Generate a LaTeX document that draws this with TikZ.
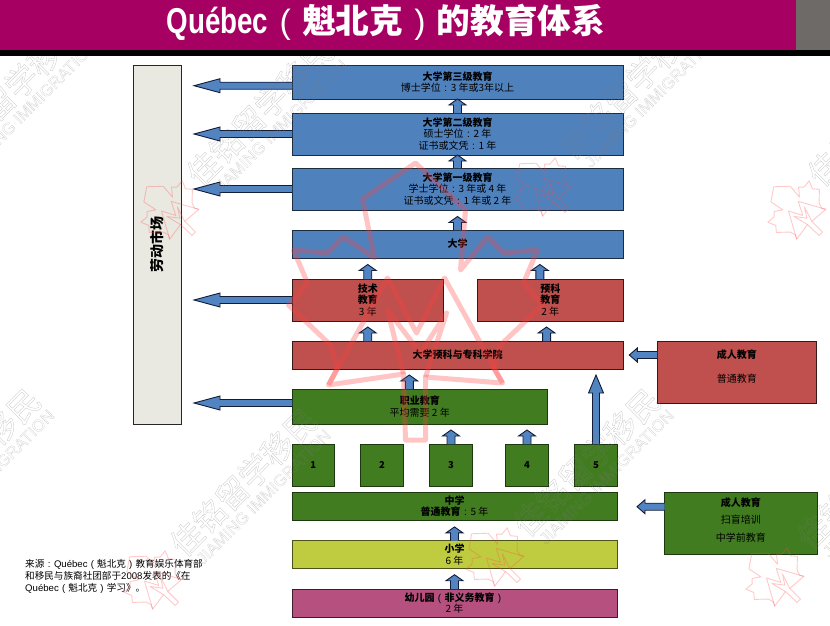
\documentclass[tikz,border=0pt]{standalone}
\usepackage{fontspec}
\usepackage{xcolor}
\setmainfont{Noto Sans CJK SC}
\newfontfamily\latinfont{Liberation Sans}
\newfontfamily\titlelatin[FakeStretch=0.77]{Liberation Sans}
\usetikzlibrary{arrows.meta,
positioning,
calc}

\definecolor{bannerred}{HTML}{A50062}
\definecolor{bannergray}{HTML}{6E6A68}
\definecolor{edublue}{HTML}{4F81BD}
\definecolor{edured}{HTML}{C0504D}
\definecolor{edugreen}{HTML}{417C20}
\definecolor{eduyellow}{HTML}{BFCC3F}
\definecolor{edupink}{HTML}{B5507F}
\definecolor{labourgray}{HTML}{E9E9E1}
\definecolor{arrowfill}{HTML}{5284C2}
\definecolor{arrowline}{HTML}{101C38}

\newcommand{\blockarrow}[5]{%
	\coordinate (ba) at (#1);
	\coordinate (bb) at (#2);
	\coordinate (bh) at ($(bb)!#5pt!(ba)$);
	\draw[arrowbody] ($(ba)!#3pt!90:(bb)$) -- ($(bh)!#3pt!90:(bb)$) -- ($(bh)!#4pt!90:(bb)$) -- (bb)
	-- ($(bh)!#4pt!-90:(bb)$) -- ($(bh)!#3pt!-90:(bb)$) -- ($(ba)!#3pt!-90:(bb)$);
}
\newcommand{\outarrow}[2]{\blockarrow{#1}{#2}{3.5}{7}{26}}
\newcommand{\steparrow}[2]{\blockarrow{#1}{#2}{4}{8.5}{6}}
\newcommand{\sidearrow}[2]{\blockarrow{#1}{#2}{3.5}{7}{8}}

% Centred punctuation, one character wide
\newcommand{\lp}{\makebox[1em]{\latinfont\mdseries(}}
\newcommand{\rp}{\makebox[1em]{\latinfont\mdseries)}}
\newcommand{\cl}{\makebox[1em]{\latinfont\mdseries:}}
% Hollow letters for the watermark
\newcommand{\hollow}[2]{\special{pdf:code 1 Tr #1 w}#2\special{pdf:code 0 Tr}}

\begin{document}
\begin{tikzpicture}[
		x=1pt,
		y=-1pt,
		arrowbody/.style={
			draw=arrowline,
			fill=arrowfill,
			line width=0.9pt,
			line join=miter
		},
		edubox/.style={
			draw,
			line width=0.9pt,
			outer sep=0pt,
			inner sep=0pt,
			align=center,
			text=black,
			font=\fontsize{10}{11.7}\selectfont
		},
		wideblue/.style={
			edubox,
			draw=edublue!35!black,
			fill=edublue,
			minimum width=331pt
		},
		redbox/.style={
			edubox,
			draw=edured!30!black,
			fill=edured
		},
		greenbox/.style={
			edubox,
			draw=edugreen!45!black,
			fill=edugreen
		},
		gradebox/.style={
			greenbox,
			minimum width=42.4pt,
			minimum height=42pt,
			font=\fontsize{9.5}{11.7}\selectfont\bfseries
		},
		wmtext/.style={
			text=gray,
			text opacity=0.4,
			rotate=45,
			inner sep=0pt
		},
		smallmark/.style={
			draw=red!70!white,
			draw opacity=0.3,
			line width=0.9pt,
			rotate=45,
			scale=0.24
		},
		bigmark/.style={
			draw=red!75!white,
			draw opacity=0.3,
			line width=5pt
		},
		mapleleaf/.pic={
			\draw[pic actions, line join=round]
			(0,-137) -- (-53,-101) -- (-41,-42) -- (-72,-63) -- (-88,-47) -- (-122,-50)
			-- (-108,-17) -- (-127,5) -- (-85,45) -- (-78,68) -- (-87,85) -- (-12,74)
			-- (-10,140) -- (10,140) -- (10,77) -- (87,83) -- (78,68) -- (85,45)
			-- (127,5) -- (108,-17) -- (122,-50) -- (88,-47) -- (72,-63) -- (45,-30)
			-- (50,-90) -- cycle;
			\draw[pic actions, line join=round]
			(-87,85) -- (-28,-22) -- (1,33) -- (29,-22) -- (87,83);
			\draw[pic actions, line join=round]
			(-12,74) -- (-28,10) -- (5,53) -- (31,13) -- (10,77);
		},
		brandmark/.pic={
			\node[wmtext, font=\fontsize{32}{32}\selectfont] (brandcn) at (0,0) {\hollow{0.35}{佳铭留学移民}};
			\node[wmtext, font=\latinfont\fontsize{16.5}{16.5}\selectfont] (branden) at (20,15) {\hollow{0.25}{JIAMING IMMIGRATION}};
		}
		]
		
		\useasboundingbox (0,0) rectangle (830,625);
		
		% University levels
		\node[wideblue, minimum height=34pt] (doctorate) at (457.5,82)
		{\textbf{大学第三级教育}\\博士学位\cl 3 年或3年以上};
		
		\node[wideblue, minimum height=42pt, below=14pt of doctorate] (master)
		{\textbf{大学第二级教育}\\硕士学位\cl 2 年\\证书或文凭\cl 1 年};
		
		\node[wideblue, minimum height=42pt, below=13pt of master] (bachelor)
		{\textbf{大学第一级教育}\\学士学位\cl 3 年或 4 年\\证书或文凭\cl 1 年或 2 年};
		
		\node[wideblue, minimum height=28pt, below=20pt of bachelor] (university)
		{\textbf{大学}};
		
		% College
		\node[redbox, minimum width=151.5pt, minimum height=42pt, below right=21pt and 0pt of university.south west] (technical)
		{\textbf{技术}\\\textbf{教育}\\3 年};
		
		\node[redbox, minimum width=145.5pt, minimum height=42pt, right=34pt of technical] (preuniv)
		{\textbf{预科}\\\textbf{教育}\\2 年};
		
		\node[redbox, minimum width=331pt, minimum height=28pt, below right=20pt and 0pt of technical.south west] (college)
		{\textbf{大学预科与专科学院}};
		
		\node[redbox, minimum width=159.5pt, minimum height=62pt, below right=0pt and 34pt of college.north east] (adultred)
		{\textbf{成人教育}\\[12.3pt]普通教育\\[0.3pt]~};
		
		% Secondary
		\node[greenbox, minimum width=255.5pt, minimum height=35pt, below right=20pt and 0pt of college.south west] (vocational)
		{\textbf{职业教育}\\平均需要 2 年};
		
		\node[gradebox, below right=20pt and 0pt of vocational.south west] (gradeone) {1};
		\node[gradebox, right=26.4pt of gradeone] (gradetwo) {2};
		\node[gradebox, right=26.6pt of gradetwo] (gradethree) {3};
		\node[gradebox, right=33.6pt of gradethree] (gradefour) {4};
		\node[gradebox, right=26.6pt of gradefour] (gradefive) {5};
		
		\node[greenbox, minimum width=325pt, minimum height=28.4pt, below right=6pt and 0pt of gradeone.south west] (secondary)
		{\textbf{中学}\\\textbf{普通教育}\cl 5 年};
		
		\node[greenbox, minimum width=152.4pt, minimum height=62.3pt, below right=0pt and 47.6pt of secondary.north east] (adultgreen)
		{\textbf{成人教育}\\[5.8pt]扫盲培训\\[5.8pt]中学前教育\\[-3.7pt]~};
		
		% Primary and kindergarten
		\node[edubox, draw=eduyellow!40!black, fill=eduyellow, minimum width=325pt, minimum height=28pt, below=20.3pt of secondary] (primary)
		{\textbf{小学}\\6 年};
		
		\node[edubox, draw=edupink!35!black, fill=edupink, minimum width=325pt, minimum height=28pt, below=20.3pt of primary] (kindergarten)
		{\textbf{幼儿园\lp 非义务教育\rp}\\2 年};
		
		% Labour market
		\node[edubox, draw=black!85, fill=labourgray, minimum width=48pt, minimum height=359pt] (labour) at (157,244.5)
		{};
		\node[rotate=90, inner sep=0pt, font=\fontsize{14}{14}\selectfont\bfseries] (labourtext) at (labour.center) {劳动市场};
		
		% Source note
		\node[inner sep=0pt, anchor=north west, align=left, font=\fontsize{9.6}{11.9}\selectfont] (source) at (25,559)
		{来源\cl{\latinfont Québec}\lp 魁北克\rp 教育娱乐体育部\\和移民与族裔社团部于{\latinfont 2008}发表的《在\\{\latinfont Québec}\lp 魁北克\rp 学习》。};
		
		% Free ends at the labour market
		\coordinate (outdoctorate) at (194,85.7);
		\coordinate (outmaster) at (194,134);
		\coordinate (outbachelor) at (194,189);
		\coordinate (outtechnical) at (194,300);
		\coordinate (outvocational) at (194,403);
		
		% Connections
		\outarrow{outdoctorate -| doctorate.west}{outdoctorate}
		\outarrow{outmaster -| master.west}{outmaster}
		\outarrow{outbachelor -| bachelor.west}{outbachelor}
		\outarrow{outtechnical -| technical.west}{outtechnical}
		\outarrow{outvocational -| vocational.west}{outvocational}
		
		\steparrow{master.north}{doctorate.south}
		\steparrow{bachelor.north}{master.south}
		\steparrow{university.north}{$(bachelor.south)+(0,6.5)$}
		\steparrow{technical.north}{$(technical.north |- university.south)+(0,6.5)$}
		\steparrow{$(preuniv.north)+(-10.4,0)$}{$(preuniv.north |- university.south)+(-10.4,6.5)$}
		\steparrow{college.north -| technical.north}{$(technical.south)+(0,6)$}
		\steparrow{$(college.north -| preuniv.north)+(-3.7,0)$}{$(preuniv.south)+(-3.7,6)$}
		\steparrow{$(vocational.north west)+(117.3,0)$}{$(college.south west)+(117.3,6)$}
		\steparrow{gradethree.north}{$(gradethree.north |- vocational.south)+(0,6)$}
		\steparrow{gradefour.north}{$(gradefour.north |- vocational.south)+(0,6)$}
		\blockarrow{gradefive.north}{$(gradefive.north |- college.south)+(0,6)$}{3.5}{7.5}{18}
		\steparrow{primary.north}{$(secondary.south)+(0,6.5)$}
		\steparrow{kindergarten.north}{$(primary.south)+(0,6)$}
		
		\sidearrow{adultred.west |- 0,355}{$(college.east |- 0,355)+(6.3,0)$}
		\sidearrow{adultgreen.west |- 0,506.7}{$(secondary.east |- 0,506.7)+(20,0)$}
		
		% Watermark
		\begin{scope}
			\clip (0,56) rectangle (830,625);
			\pic at (243.5,482) {brandmark};
			\pic at (586.5,462) {brandmark};
			\pic at (631.5,85) {brandmark};
			\pic at (260,112) {brandmark};
			\pic at (870,475) {brandmark};
			\pic at (-33,462) {brandmark};
			\pic at (10,92) {brandmark};
			\pic at (881,112) {brandmark};
			\pic[smallmark] at (797,210) {mapleleaf};
			\pic[smallmark] at (543,187) {mapleleaf};
			\pic[smallmark] at (775,577) {mapleleaf};
			\pic[smallmark] at (495,557) {mapleleaf};
			\pic[smallmark] at (170,210) {mapleleaf};
			\pic[smallmark] at (153,580) {mapleleaf};
			\pic[bigmark] at (415.5,300) {mapleleaf};
		\end{scope}
		
		% Banner
		\node[fill=bannerred, anchor=north west, minimum width=796pt, minimum height=50pt, inner sep=0pt, outer sep=0pt] (banner) at (0,0) {};
		\node[fill=bannergray, anchor=north west, minimum width=34pt, minimum height=50pt, inner sep=0pt, outer sep=0pt] (bannerend) at (banner.north east) {};
		\node[fill=black, anchor=north west, minimum width=830pt, minimum height=6pt, inner sep=0pt, outer sep=0pt] (bannerrule) at (banner.south west) {};
		\node[text=white, inner sep=0pt, font=\fontsize{33.7}{34}\selectfont] (title) at (386,22)
		{{\titlelatin\bfseries\fontsize{36}{36}\selectfont Québec}\textbf{\lp 魁北克\rp 的教育体系}};
		
	\end{tikzpicture}
\end{document}
